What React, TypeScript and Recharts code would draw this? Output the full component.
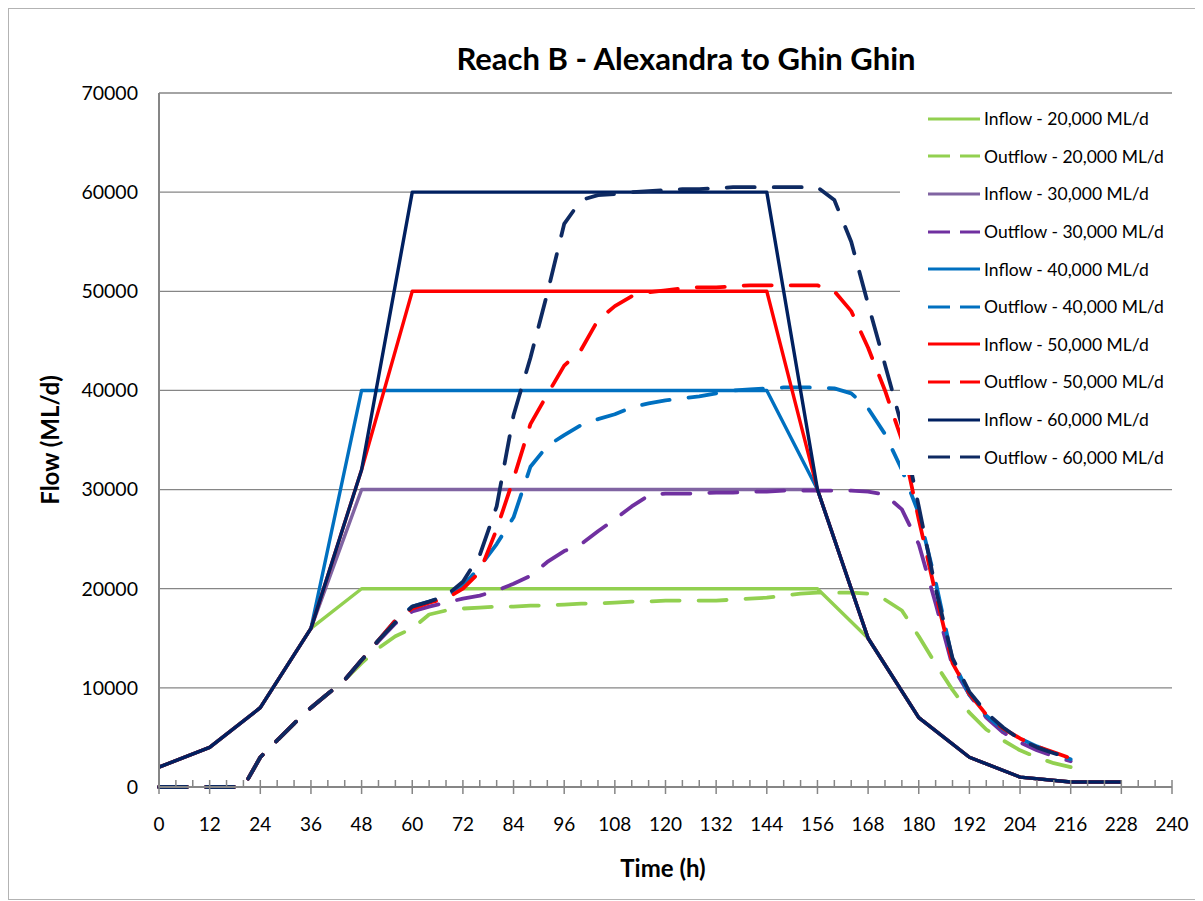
import React from 'react'
import { LineChart, Line, XAxis, YAxis, CartesianGrid, Legend } from 'recharts'

const FONT = 'Lato, "Open Sans", sans-serif'

// hours for the inflow hydrographs (12 h steps)
const inflowHours = [0, 12, 24, 36, 48, 60, 72, 84, 96, 108, 120, 132, 144, 156, 168, 180, 192, 204, 216, 228]

const inflow20 = [2000, 4000, 8000, 16000, 20000, 20000, 20000, 20000, 20000, 20000, 20000, 20000, 20000, 20000, 15000, 7000, 3000, 1000, 500, 500]
const inflow30 = [2000, 4000, 8000, 16000, 30000, 30000, 30000, 30000, 30000, 30000, 30000, 30000, 30000, 30000, 15000, 7000, 3000, 1000, 500, 500]
const inflow40 = [2000, 4000, 8000, 16000, 40000, 40000, 40000, 40000, 40000, 40000, 40000, 40000, 40000, 30000, 15000, 7000, 3000, 1000, 500, 500]
const inflow50 = [2000, 4000, 8000, 16000, 32000, 50000, 50000, 50000, 50000, 50000, 50000, 50000, 50000, 30000, 15000, 7000, 3000, 1000, 500, 500]
const inflow60 = [2000, 4000, 8000, 16000, 32000, 60000, 60000, 60000, 60000, 60000, 60000, 60000, 60000, 30000, 15000, 7000, 3000, 1000, 500, 500]

// hours for the routed outflows (4 h steps)
const outflowHours = [
  0, 4, 8, 12, 16, 20, 24, 28, 32, 36, 40, 44, 48, 52, 56, 60, 64, 68, 72, 76, 80, 84, 88, 92, 96, 100, 104, 108,
  112, 116, 120, 124, 128, 132, 136, 140, 144, 148, 152, 156, 160, 164, 168, 172, 176, 180, 184, 188, 192, 196,
  200, 204, 208, 212, 216,
]

const outflow20 = [
  0, 0, 0, 0, 0, 0, 3000, 4700, 6400, 8000, 9400, 10800, 12500, 14000, 15200, 16000, 17400, 17800,
  18000, 18100, 18200, 18200, 18300, 18300, 18400, 18500, 18500, 18600, 18700, 18700, 18800, 18800, 18800,
  18800, 18900, 19000, 19100, 19300, 19500, 19600, 19600, 19600, 19500, 18900, 17800, 15200, 12400, 9800,
  7500, 5800, 4700, 3700, 3000, 2400, 2000,
]
const outflow30 = [
  0, 0, 0, 0, 0, 0, 3000, 4700, 6400, 8000, 9400, 10800, 12800, 14700, 16500, 17700, 18200, 18600,
  19000, 19300, 19800, 20500, 21300, 22700, 23800, 24500, 25800, 27000, 28300, 29400, 29600, 29600, 29600,
  29700, 29700, 29800, 29800, 29900, 29900, 29900, 29900, 29900, 29800, 29500, 28000, 24500, 18500, 12200,
  9300, 7000, 5500, 4500, 3700, 3100, 2600,
]
const outflow40 = [
  0, 0, 0, 0, 0, 0, 3000, 4700, 6400, 8000, 9400, 10800, 12800, 14800, 16800, 18200, 18700, 19200,
  20300, 22200, 24500, 27200, 32300, 34400, 35500, 36500, 37100, 37600, 38300, 38700, 39000, 39200, 39400,
  39700, 40000, 40100, 40200, 40300, 40300, 40300, 40200, 39700, 38200, 35600, 32000, 27600, 20700, 12800,
  9300, 7200, 5800, 4900, 4100, 3400, 2800,
]
const outflow50 = [
  0, 0, 0, 0, 0, 0, 3000, 4700, 6400, 8000, 9400, 10800, 12800, 14800, 16800, 18000, 18600, 19000,
  20000, 21700, 26000, 31100, 36600, 39600, 42500, 44100, 47100, 48500, 49500, 49900, 50100, 50300, 50400,
  50400, 50500, 50600, 50600, 50600, 50600, 50600, 50000, 48000, 44300, 40000, 35000, 27000, 19500, 12500,
  9400, 7300, 5900, 4900, 4100, 3500, 2900,
]
const outflow60 = [
  0, 0, 0, 0, 0, 0, 3000, 4700, 6400, 8000, 9400, 10800, 12800, 14800, 16600, 18200, 18700, 19300,
  20700, 23400, 28300, 37500, 43300, 49800, 56800, 59200, 59700, 59800, 60000, 60100, 60200, 60300, 60300,
  60400, 60500, 60500, 60500, 60500, 60500, 60500, 59200, 55000, 48700, 42600, 36400, 28300, 20000, 13000,
  9600, 7500, 6000, 4800, 4000, 3400, 2900,
]

const timeTicks = [
  0, 4, 8, 12, 16, 20, 24, 28, 32, 36, 40, 44, 48, 52, 56, 60, 64, 68, 72, 76, 80, 84, 88, 92, 96, 100, 104, 108,
  112, 116, 120, 124, 128, 132, 136, 140, 144, 148, 152, 156, 160, 164, 168, 172, 176, 180, 184, 188, 192, 196,
  200, 204, 208, 212, 216, 220, 224, 228, 232, 236, 240,
]
const flowTicks = [0, 10000, 20000, 30000, 40000, 50000, 60000, 70000]

const toPoints = (hours: number[], values: number[]) => hours.map((t, i) => ({ t, flow: values[i] }))

const SERIES = [
  { name: 'Inflow - 20,000 ML/d', color: '#92D050', dashed: false, data: toPoints(inflowHours, inflow20) },
  { name: 'Outflow - 20,000 ML/d', color: '#92D050', dashed: true, data: toPoints(outflowHours, outflow20) },
  { name: 'Inflow - 30,000 ML/d', color: '#8064A2', dashed: false, data: toPoints(inflowHours, inflow30) },
  { name: 'Outflow - 30,000 ML/d', color: '#7030A0', dashed: true, data: toPoints(outflowHours, outflow30) },
  { name: 'Inflow - 40,000 ML/d', color: '#0070C0', dashed: false, data: toPoints(inflowHours, inflow40) },
  { name: 'Outflow - 40,000 ML/d', color: '#0070C0', dashed: true, data: toPoints(outflowHours, outflow40) },
  { name: 'Inflow - 50,000 ML/d', color: '#FF0000', dashed: false, data: toPoints(inflowHours, inflow50) },
  { name: 'Outflow - 50,000 ML/d', color: '#FF0000', dashed: true, data: toPoints(outflowHours, outflow50) },
  { name: 'Inflow - 60,000 ML/d', color: '#002060', dashed: false, data: toPoints(inflowHours, inflow60) },
  { name: 'Outflow - 60,000 ML/d', color: '#0E2A62', dashed: true, data: toPoints(outflowHours, outflow60) },
]

const AXIS = '#868686'

const TimeTick = ({ x, y, payload }: any) => {
  const major = payload.value % 12 === 0
  return (
    <g>
      <line x1={x} x2={x} y1={y - 7} y2={major ? y + 7 : y} stroke={AXIS} strokeWidth={1.5} />
      {major && (
        <text x={x} y={y + 44} textAnchor="middle" fontSize={19} fill="#000" fontFamily={FONT}>
          {payload.value}
        </text>
      )}
    </g>
  )
}

const LegendBox = () => (
  <div style={{ background: '#fff', width: 272, height: 380, paddingTop: 5, boxSizing: 'border-box', fontFamily: FONT }}>
    {SERIES.map(s => (
      <div key={s.name} style={{ display: 'flex', alignItems: 'center', height: 37.6 }}>
        <svg width={52} height={6} style={{ marginLeft: 28, marginRight: 4 }}>
          <line x1={0} x2={52} y1={3} y2={3} stroke={s.color} strokeWidth={3}
            strokeDasharray={s.dashed ? '22 10' : undefined} />
        </svg>
        <span style={{ fontSize: 17.5, color: '#000', whiteSpace: 'nowrap' }}>{s.name}</span>
      </div>
    ))}
  </div>
)

export default function App() {
  return (
    <div style={{ position: 'relative', width: 1194, height: 890, border: '1px solid #b3b3b3', background: '#fff', fontFamily: FONT }}>
      <div style={{ position: 'absolute', left: 377, top: 30, width: 600, textAlign: 'center', fontSize: 31, fontWeight: 700, lineHeight: '38px' }}>
        Reach B - Alexandra to Ghin Ghin
      </div>
      <div style={{ position: 'absolute', left: 554, top: 844, width: 200, textAlign: 'center', fontSize: 24, fontWeight: 700, lineHeight: '30px' }}>
        Time (h)
      </div>
      <div style={{ position: 'absolute', left: -59, top: 416, width: 200, textAlign: 'center', fontSize: 24, fontWeight: 700, lineHeight: '30px', transform: 'rotate(-90deg)' }}>
        Flow (ML/d)
      </div>

      <LineChart width={1194} height={890} margin={{ top: 84, right: 31, left: 0, bottom: 52 }}>
        <CartesianGrid vertical={false} stroke={AXIS} strokeWidth={1.3} />
        <XAxis dataKey="t" type="number" domain={[0, 240]} ticks={timeTicks} interval={0}
          tick={<TimeTick />} tickLine={false} tickSize={0} tickMargin={0} height={60}
          axisLine={{ stroke: AXIS, strokeWidth: 2 }} />
        <YAxis type="number" domain={[0, 70000]} ticks={flowTicks} interval={0} width={150}
          tickLine={false} tickSize={0} tickMargin={21}
          tick={{ fontSize: 19.5, fill: '#000', fontFamily: FONT }}
          axisLine={{ stroke: AXIS, strokeWidth: 2 }} />
        {SERIES.map(s => (
          <Line key={s.name} data={s.data} dataKey="flow" name={s.name} type="linear"
            stroke={s.color} strokeWidth={s.dashed ? 3.8 : 3.4}
            strokeDasharray={s.dashed ? '28 19' : undefined}
            strokeLinecap={s.dashed ? 'round' : 'butt'} strokeLinejoin="round"
            dot={false} activeDot={false} isAnimationActive={false} />
        ))}
        <Legend layout="vertical" align="center" verticalAlign="middle" content={<LegendBox />}
          wrapperStyle={{ left: 891, top: 86, width: 272, height: 380 }} />
      </LineChart>
    </div>
  )
}
